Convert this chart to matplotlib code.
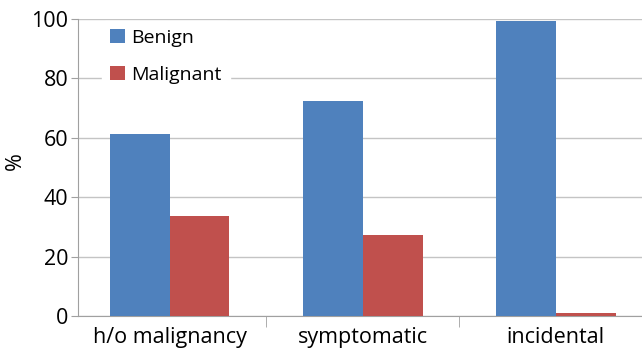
import numpy as np
import matplotlib.pyplot as plt

categories = ["h/o malignancy", "symptomatic", "incidental"]
benign = [61.3, 72.5, 99.3]
malignant = [33.8, 27.4, 1.0]

plt.rcParams['font.family'] = ['Open Sans', 'DejaVu Sans']

fig = plt.figure(figsize=(6.42, 3.49), dpi=100)
ax = fig.add_axes([0.1215, 0.0946, 0.8785, 0.851])

x = np.arange(len(categories))
w = 0.31
ax.bar(x - w / 2, benign, w, color="#4F81BD", label="Benign", zorder=3)
ax.bar(x + w / 2, malignant, w, color="#C0504D", label="Malignant", zorder=3)

ax.set_ylim(0, 100)
ax.set_yticks(range(0, 101, 20))
ax.set_xlim(-0.474, 2.446)
ax.yaxis.grid(True, color="#C4C4C4", linewidth=1)
ax.set_axisbelow(True)

# category labels centred, tick marks at boundaries
ax.set_xticks(x)
ax.set_xticklabels(categories, fontsize=15.5)
ax.tick_params(axis="x", length=0, pad=8)
ax.set_xticks([0.5, 1.5], minor=True)
ax.tick_params(axis="x", which="minor", length=8, color="#A0A0A0")
ax.tick_params(axis="y", labelsize=15.5, length=5, color="#A0A0A0", pad=2)

for side in ["top", "right"]:
    ax.spines[side].set_visible(False)
for side in ["left", "bottom"]:
    ax.spines[side].set_color("#A0A0A0")

fig.text(15 / 642, 1 - 161 / 349, "%", rotation=90, fontsize=15.5,
         ha="center", va="center")

leg = ax.legend(loc="upper left", bbox_to_anchor=(0.026, 1.025), fontsize=14,
                frameon=True, handlelength=0.75, handleheight=0.75,
                labelspacing=0.95, handletextpad=0.35, borderpad=0.4)
leg.get_frame().set_edgecolor("white")
leg.get_frame().set_facecolor("white")
leg.get_frame().set_alpha(1)

fig.savefig("out.png", dpi=100)
